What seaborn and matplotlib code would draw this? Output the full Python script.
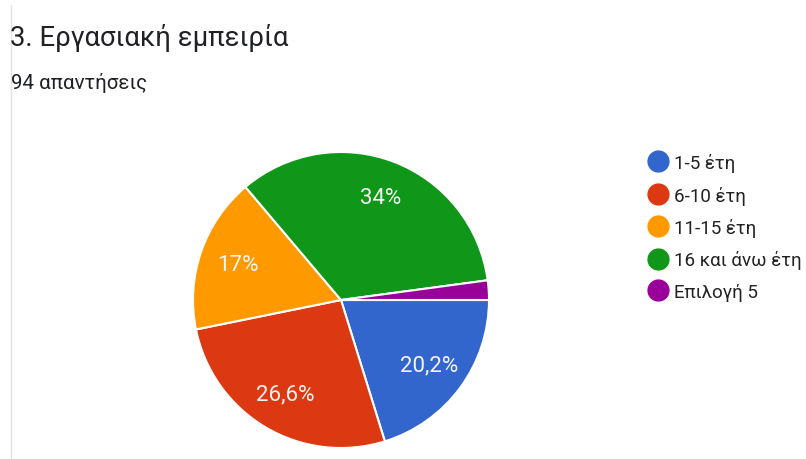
import matplotlib
matplotlib.use("Agg")
import matplotlib.pyplot as plt
from matplotlib.lines import Line2D
import seaborn as sns

# Responses per experience band
categories = ["1-5 έτη", "6-10 έτη", "11-15 έτη", "16 και άνω έτη", "Επιλογή 5"]
counts = [19, 25, 16, 32, 2]
pct_labels = ["20,2%", "26,6%", "17%", "34%", ""]
colors = ["#3366cc", "#dc3912", "#ff9900", "#109618", "#990099"]

title = "3. Εργασιακή εμπειρία"
subtitle = "94 απαντήσεις"

sns.set_theme(style="white")
plt.rcParams["font.family"] = ["Roboto", "DejaVu Sans"]
palette = sns.color_palette(colors)

W, H = 806, 460
fig = plt.figure(figsize=(W / 100, H / 100), dpi=100)
fig.patch.set_facecolor("white")

# thin card border on the left
fig.add_artist(Line2D([11 / W, 11 / W], [0, 1 - 6 / H], color="#e3e3e3", lw=1.0,
                      transform=fig.transFigure))

fig.text(10 / W, 1 - 46 / H, title, fontsize=19.8, color="#202124", ha="left",
         va="baseline")
fig.text(11 / W, 1 - 89 / H, subtitle, fontsize=14.8, color="#202124", ha="left",
         va="baseline")

cx, cy, r = 341, 301, 148
ax = fig.add_axes([(cx - r) / W, (H - cy - r) / H, 2 * r / W, 2 * r / H])
wedges, texts = ax.pie(
    counts,
    colors=palette,
    startangle=0,
    counterclock=False,
    labels=pct_labels,
    labeldistance=0.74,
    wedgeprops=dict(edgecolor="white", linewidth=1.5),
    textprops=dict(color="#f4f4f4", fontsize=16, ha="center", va="center"),
)
ax.set_xlim(-1.0, 1.0)
ax.set_ylim(-1.0, 1.0)
ax.set_aspect("equal")
ax.axis("off")

handles = [Line2D([0], [0], marker="o", linestyle="none", markersize=15,
                  markerfacecolor=c, markeredgecolor=c) for c in palette]
fig.legend(handles, categories, loc="upper left",
           bbox_to_anchor=(648 / W, 1 - 154 / H), frameon=False,
           fontsize=13.5, labelspacing=0.72, handletextpad=0.3,
           handlelength=1.1, borderpad=0, borderaxespad=0,
           labelcolor="#222222")

fig.savefig("out.png", dpi=100, facecolor="white")
